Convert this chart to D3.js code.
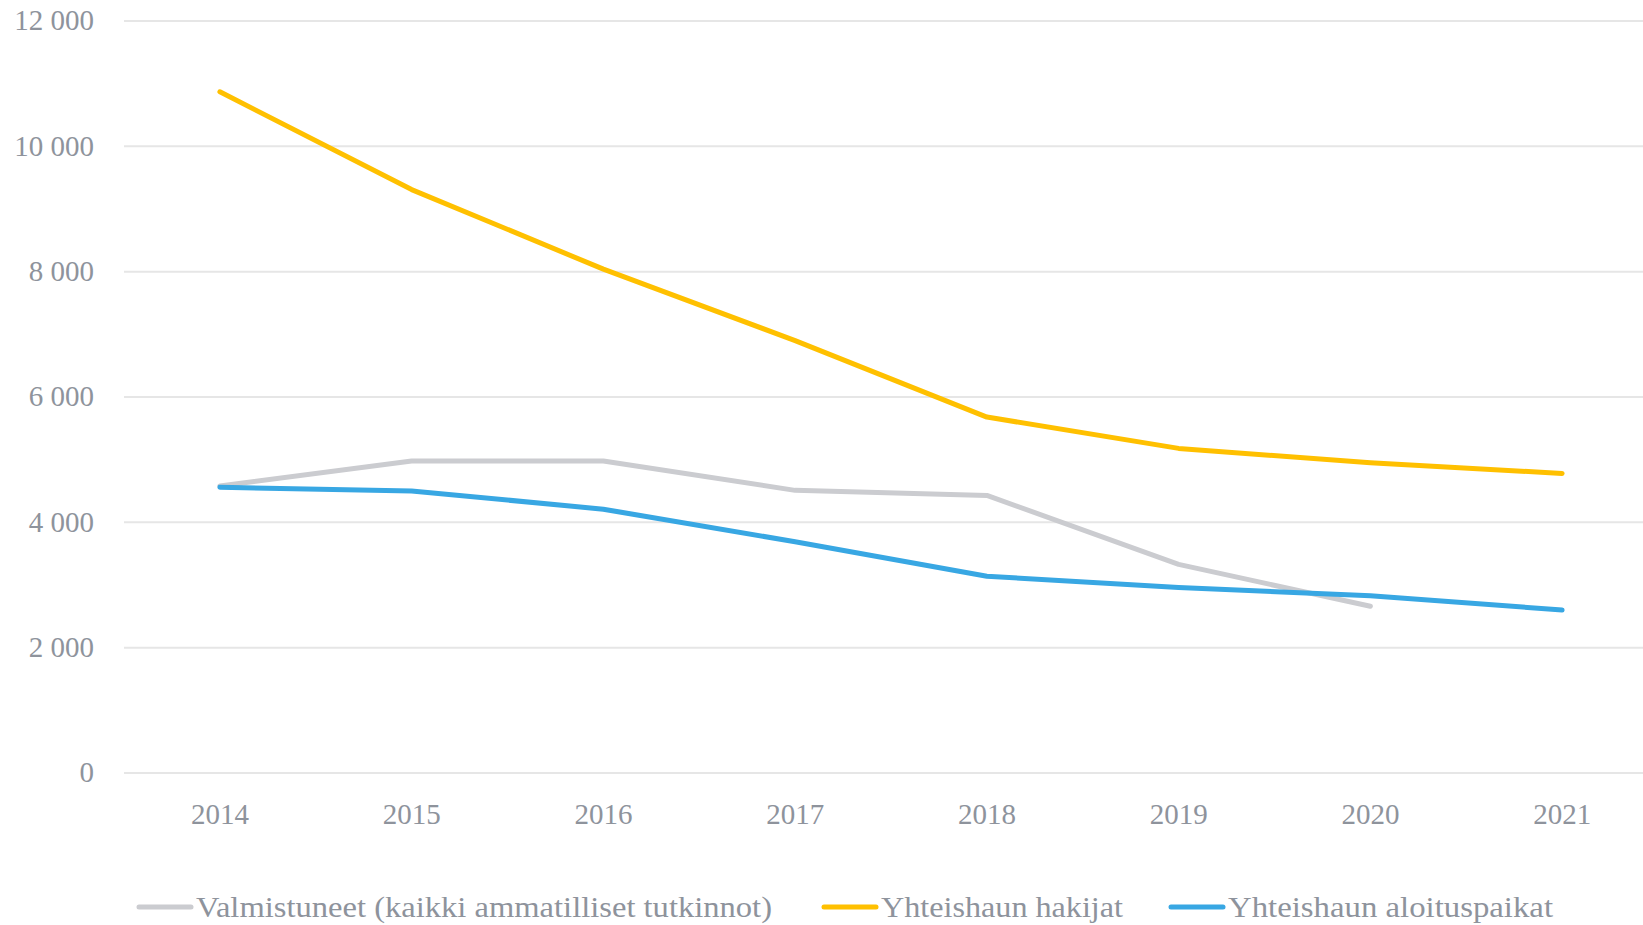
<!DOCTYPE html>
<html>
<head>
<meta charset="utf-8">
<script src="https://cdn.jsdelivr.net/npm/d3@7"></script>
<style>
	body { margin: 0; background: #fff; }
	svg { display: block; }
	text { font-family: "Palatino Linotype", "Book Antiqua", Palatino, "Liberation Serif", serif; fill: #8e939c; }
</style>
</head>
<body>
<script>
const years = ['2014', '2015', '2016', '2017', '2018', '2019', '2020', '2021'];
const valmistuneet = [4580, 4980, 4980, 4510, 4430, 3330, 2660, null];
const hakijat = [10870, 9310, 8040, 6900, 5680, 5180, 4950, 4780];
const aloituspaikat = [4560, 4500, 4210, 3690, 3140, 2960, 2830, 2600];
const yTicks = [0, 2000, 4000, 6000, 8000, 10000, 12000];
const seriesNames = ['Valmistuneet (kaikki ammatilliset tutkinnot)', 'Yhteishaun hakijat', 'Yhteishaun aloituspaikat'];
const seriesColors = ['#cbccd0', '#ffc000', '#38a7e3'];

const svgSize = {'width': 1643, 'height': 925};
const margin = {top: 21, right: -15, bottom: 152, left: 124};
const chartSize = {'width': svgSize.width - margin.left - margin.right, 'height': svgSize.height - margin.top - margin.bottom};

var svg = d3.select('body').append('svg')
	.attr('width', svgSize.width)
	.attr('height', svgSize.height);

var xAxis = d3.scaleBand().domain(years).range([0, chartSize.width]);
var yAxis = d3.scaleLinear().domain([0, 12000]).range([chartSize.height, 0]);

var chart = svg.append('g').attr('transform', `translate(${margin.left}, ${margin.top})`);

// gridlines
chart.selectAll('line.grid')
	.data(yTicks)
	.enter()
	.append('line')
	.attr('class', 'grid')
	.attr('x1', 0)
	.attr('x2', chartSize.width)
	.attr('y1', (d) => yAxis(d))
	.attr('y2', (d) => yAxis(d))
	.attr('stroke', '#e6e6e6')
	.attr('stroke-width', 2);

// y labels
var fmt = (d) => d3.format(',')(d).replace(/,/g, '\u00a0');
chart.selectAll('text.ylab')
	.data(yTicks)
	.enter()
	.append('text')
	.attr('class', 'ylab')
	.attr('x', -30)
	.attr('y', (d) => yAxis(d))
	.attr('dy', '0.32em')
	.style('text-anchor', 'end')
	.style('font-size', '29px')
	.text(fmt);

// x labels
chart.selectAll('text.xlab')
	.data(years)
	.enter()
	.append('text')
	.attr('class', 'xlab')
	.attr('x', (d) => xAxis(d) + xAxis.bandwidth() / 2)
	.attr('y', chartSize.height + 42)
	.attr('dy', '0.32em')
	.style('text-anchor', 'middle')
	.style('font-size', '29px')
	.text((d) => d);

var line = d3.line()
	.defined((d) => d != null)
	.x((d, i) => xAxis(years[i]) + xAxis.bandwidth() / 2)
	.y((d) => yAxis(d));

[valmistuneet, hakijat, aloituspaikat].forEach((arr, i) => {
	chart.append('path')
		.datum(arr)
		.attr('d', line)
		.attr('fill', 'none')
		.attr('stroke', seriesColors[i])
		.attr('stroke-width', 5)
		.attr('stroke-linecap', 'round')
		.attr('stroke-linejoin', 'round');
});

// legend (Palatino is wider than the fallback, so stretch to the original widths)
const legendX = [139, 824, 1171];
const legendW = [576, 242, 325];
var legend = svg.append('g').attr('transform', `translate(0, ${svgSize.height - 18})`);
seriesNames.forEach((name, i) => {
	legend.append('line')
		.attr('x1', legendX[i])
		.attr('x2', legendX[i] + 52)
		.attr('y1', 0)
		.attr('y2', 0)
		.attr('stroke', seriesColors[i])
		.attr('stroke-width', 5)
		.attr('stroke-linecap', 'round');
	legend.append('text')
		.attr('x', legendX[i] + 57)
		.attr('y', 0)
		.attr('dy', '0.32em')
		.attr('textLength', legendW[i])
		.attr('lengthAdjust', 'spacingAndGlyphs')
		.style('font-size', '30px')
		.text(name);
});
</script>
</body>
</html>
